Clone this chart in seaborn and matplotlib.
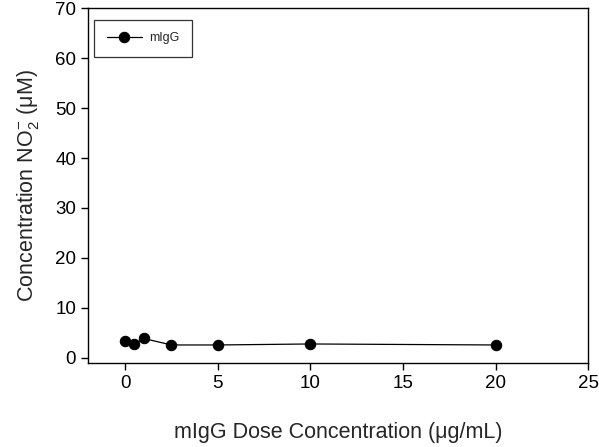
import matplotlib
matplotlib.use("Agg")
import matplotlib.pyplot as plt
import seaborn as sns
import pandas as pd

# === Data ===
dose = [0, 0.5, 1, 2.5, 5, 10, 20]
no2 = [3.4, 2.7, 3.9, 2.6, 2.6, 2.8, 2.6]
series = ["mIgG"] * len(dose)

df = pd.DataFrame({"dose": dose, "no2": no2, "series": series})

sns.set_style("ticks")
plt.rcParams["font.family"] = ["Liberation Sans", "DejaVu Sans"]
plt.rcParams["mathtext.fontset"] = "custom"
plt.rcParams["mathtext.rm"] = "Liberation Sans"
plt.rcParams["mathtext.it"] = "Liberation Sans"
plt.rcParams["mathtext.bf"] = "Liberation Sans"

fig = plt.figure(figsize=(5.99, 4.47), dpi=100)
ax = fig.add_axes([0.147, 0.188, 0.835, 0.794])

sns.lineplot(
    data=df, x="dose", y="no2", hue="series", palette=["black"],
    marker="o", markersize=7.5, markeredgecolor="black", linewidth=0.9,
    ax=ax, legend=True
)

ax.set_xlim(-2, 25)
ax.set_ylim(-1, 70)
ax.set_xticks([0, 5, 10, 15, 20, 25])
ax.set_yticks([0, 10, 20, 30, 40, 50, 60, 70])
ax.tick_params(direction="out", length=5, width=1, labelsize=13.5, colors="black")
for s in ax.spines.values():
    s.set_linewidth(1)
    s.set_color("black")

ax.set_xlabel("mIgG Dose Concentration (\u03bcg/mL)", fontsize=15.5, labelpad=22)
ax.set_ylabel("Concentration NO$_2^{-}$ (\u03bcM)", fontsize=15.5, labelpad=10)

leg = ax.legend(loc="upper left", fontsize=9, frameon=True, fancybox=False,
                edgecolor="black", handlelength=2.8, borderpad=1.0,
                handletextpad=0.6, bbox_to_anchor=(0.0, 0.985))
leg.get_frame().set_linewidth(0.9)

fig.savefig("out.png", dpi=100)
